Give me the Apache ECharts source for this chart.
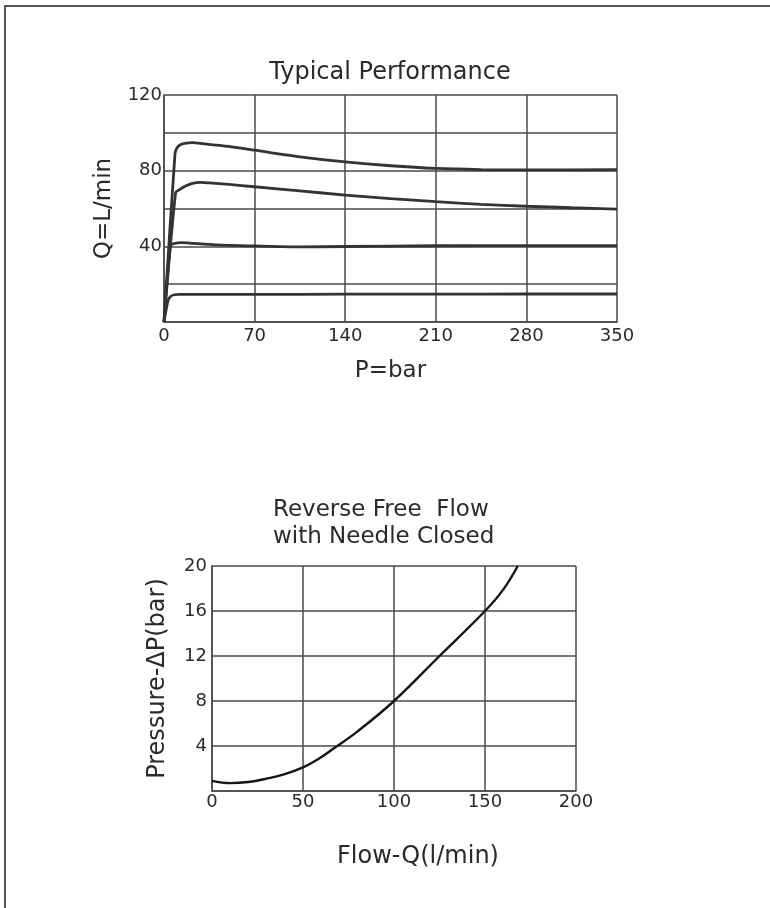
<!DOCTYPE html>
<html>
<head>
<meta charset="utf-8">
<script src="https://cdn.jsdelivr.net/npm/echarts@6/dist/echarts.min.js"></script>
<style>
  html, body { margin: 0; padding: 0; background: #fff; }
  #chart { width: 770px; height: 908px; }
</style>
</head>
<body>
<div id="chart"></div>
<script>
// ---------- Top chart: Typical Performance (P=bar vs Q=L/min) ----------
const topTitle = 'Typical Performance';
const topXName = 'P=bar';
const topYName = 'Q=L/min';
const topXTicks = [0, 70, 140, 210, 280, 350];
const topYLabelValues = [40, 80, 120];

const curve95 = [[0,0],[8.5,89],[10,92],[13,93.8],[17,94.6],[22,94.8],[30,94.3],[50,92.8],[70,90.8],[105,87.3],[140,84.6],[175,82.6],[210,81.2],[245,80.6],[280,80.4],[350,80.6]];
const curve73 = [[0,0],[9,68.5],[12,70],[17,72],[22,73.3],[28,73.8],[35,73.5],[50,72.7],[70,71.5],[105,69.3],[140,67.1],[175,65.2],[210,63.6],[245,62.2],[280,61.2],[315,60.4],[350,59.7]];
const curve40 = [[0,0],[5,40.5],[8,41.5],[13,42],[20,41.7],[40,40.8],[70,40.2],[105,39.7],[140,39.9],[210,40.3],[280,40.4],[350,40.4]];
const curve15 = [[0,0],[3,11],[5,13.5],[8,14.4],[12,14.6],[70,14.6],[140,14.7],[210,14.7],[280,14.8],[350,14.8]];

// ---------- Bottom chart: Reverse Free Flow with Needle Closed ----------
const bottomTitle = 'Reverse Free  Flow\nwith Needle Closed';
const bottomXName = 'Flow-Q(l/min)';
const bottomYName = 'Pressure-\u0394P(bar)';
const bottomXTicks = [0, 50, 100, 150, 200];
const bottomYLabelValues = [4, 8, 12, 16, 20];
const reverseFlow = [[0,0.9],[10,0.7],[20,0.8],[30,1.1],[40,1.5],[50,2.1],[58,2.8],[67,3.8],[80,5.3],[100,8],[125,12],[150,16],[160,17.9],[168,20]];

const FONT = 'DejaVu Sans';
const gridLine = { color: '#4a4a4a', width: 1.5 };
const textColor = '#2a2a2a';

const chart = echarts.init(document.getElementById('chart'), null, { renderer: 'canvas' });

function curveSeries(data, xi, color, width, smooth) {
  return {
    type: 'line', xAxisIndex: xi, yAxisIndex: xi, data: data,
    showSymbol: false, smooth: smooth,
    lineStyle: { color: color, width: width }, silent: true
  };
}

chart.setOption({
  animation: false,
  backgroundColor: '#fff',
  graphic: [{
    type: 'rect', shape: { x: 5, y: 6, width: 900, height: 1000 },
    style: { fill: 'none', stroke: '#555', lineWidth: 2 }, silent: true
  }],
  title: [
    { text: topTitle, left: 390, top: 59, textAlign: 'center', padding: 0,
      textStyle: { fontFamily: FONT, fontSize: 24, fontWeight: 'normal', color: textColor, lineHeight: 28 } },
    { text: bottomTitle, left: 273, top: 497, textAlign: 'left', padding: 0,
      textStyle: { fontFamily: FONT, fontSize: 23, fontWeight: 'normal', color: textColor, lineHeight: 27 } }
  ],
  grid: [
    { left: 164, top: 95, width: 453, height: 227, containLabel: false },
    { left: 212, top: 566, width: 364, height: 225, containLabel: false }
  ],
  xAxis: [
    { gridIndex: 0, type: 'value', min: topXTicks[0], max: topXTicks[topXTicks.length-1], interval: 70,
      name: topXName, nameLocation: 'middle', nameGap: 38,
      nameTextStyle: { fontFamily: FONT, fontSize: 23, color: textColor },
      axisLine: { show: true, lineStyle: gridLine }, axisTick: { show: false },
      axisLabel: { margin: 5, fontFamily: FONT, fontSize: 18, color: textColor,
        formatter: v => topXTicks.includes(v) ? String(v) : '' },
      splitLine: { show: true, lineStyle: gridLine } },
    { gridIndex: 1, type: 'value', min: bottomXTicks[0], max: bottomXTicks[bottomXTicks.length-1], interval: 50,
      name: bottomXName, nameLocation: 'middle', nameGap: 54,
      nameTextStyle: { fontFamily: FONT, fontSize: 24, color: textColor, padding: [0, 0, 0, 48] },
      axisLine: { show: true, lineStyle: gridLine }, axisTick: { show: false },
      axisLabel: { margin: 2, fontFamily: FONT, fontSize: 18, color: textColor,
        formatter: v => bottomXTicks.includes(v) ? String(v) : '' },
      splitLine: { show: true, lineStyle: gridLine } }
  ],
  yAxis: [
    { gridIndex: 0, type: 'value', min: 0, max: 120, interval: 20,
      name: topYName, nameLocation: 'middle', nameGap: 48,
      nameTextStyle: { fontFamily: FONT, fontSize: 23, color: textColor },
      axisLine: { show: true, lineStyle: gridLine }, axisTick: { show: false },
      axisLabel: { margin: 2, fontFamily: FONT, fontSize: 18, color: textColor,
        formatter: v => topYLabelValues.includes(v) ? String(v) : '' },
      splitLine: { show: true, lineStyle: gridLine } },
    { gridIndex: 1, type: 'value', min: 0, max: 20, interval: 4,
      name: bottomYName, nameLocation: 'middle', nameGap: 42,
      nameTextStyle: { fontFamily: FONT, fontSize: 24, color: textColor },
      axisLine: { show: true, lineStyle: gridLine }, axisTick: { show: false },
      axisLabel: { margin: 5, fontFamily: FONT, fontSize: 18, color: textColor,
        formatter: v => bottomYLabelValues.includes(v) ? String(v) : '' },
      splitLine: { show: true, lineStyle: gridLine } }
  ],
  series: [
    curveSeries(curve95, 0, '#333', 2.8, 0.25),
    curveSeries(curve73, 0, '#333', 2.8, 0.25),
    curveSeries(curve40, 0, '#333', 2.8, 0.25),
    curveSeries(curve15, 0, '#333', 2.8, 0.25),
    curveSeries(reverseFlow, 1, '#151515', 2.4, 0.4)
  ]
});
</script>
</body>
</html>
